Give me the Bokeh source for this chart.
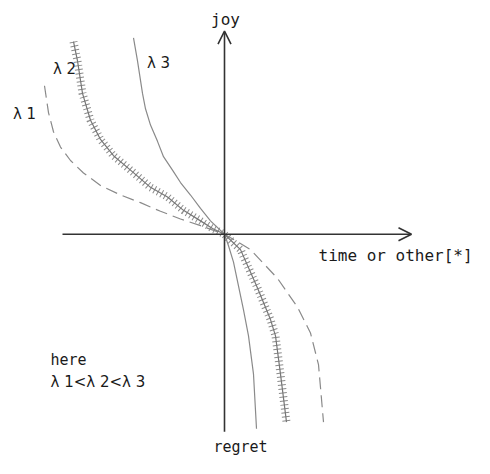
from bokeh.plotting import figure
from bokeh.models import Range1d, Arrow, OpenHead, Label
from bokeh.embed import file_html
from bokeh.resources import INLINE

# curve data (x = time or other, y = joy / regret)
l1_x = [-1.80, -1.76, -1.71, -1.64, -1.54, -1.41, -1.24, -1.04, -0.84, -0.64, -0.44, -0.24, 0.0,
        0.10, 0.26, 0.53, 0.73, 0.86, 0.94, 0.99]
l1_y = [1.55, 1.27, 1.07, 0.91, 0.77, 0.64, 0.51, 0.41, 0.33, 0.24, 0.16, 0.09, 0.0,
        -0.06, -0.16, -0.46, -0.76, -1.03, -1.36, -1.96]

l2_x = [-1.51, -1.47, -1.42, -1.34, -1.24, -1.11, -0.94, -0.74, -0.57, -0.41, -0.24, -0.12, 0.0,
        0.16, 0.33, 0.46, 0.51, 0.56, 0.62]
l2_y = [2.01, 1.81, 1.47, 1.19, 0.99, 0.82, 0.67, 0.49, 0.39, 0.25, 0.14, 0.06, 0.0,
        -0.16, -0.56, -0.89, -1.06, -1.46, -1.96]

l3_x = [-0.91, -0.87, -0.82, -0.79, -0.74, -0.67, -0.61, -0.52, -0.44, -0.34, -0.24, -0.14, 0.0,
        0.04, 0.09, 0.19, 0.24, 0.29, 0.32]
l3_y = [2.05, 1.81, 1.47, 1.31, 1.14, 0.97, 0.81, 0.67, 0.54, 0.41, 0.27, 0.14, 0.0,
        -0.12, -0.29, -0.79, -1.06, -1.46, -2.03]

curve_labels = ["λ 1", "λ 2", "λ 3"]
axis_labels = ["joy", "time or other[*]", "regret"]
note_lines = ["here", "λ 1<λ 2<λ 3"]

p = figure(width=474, height=458, x_range=Range1d(-2.24, 2.50), y_range=Range1d(-2.34, 2.44),
           x_axis_type=None, y_axis_type=None, toolbar_location=None, output_backend="svg",
           min_border=0)
p.grid.visible = False
p.outline_line_color = None
p.background_fill_color = "white"
p.border_fill_color = "white"

curve_col = "#8a8a8a"
axis_col = "#333333"

# axes with open arrow heads
p.add_layout(Arrow(end=OpenHead(size=13, line_width=1.6, line_color=axis_col),
                   x_start=0, y_start=-2.06, x_end=0, y_end=2.12,
                   line_width=1.6, line_color=axis_col))
p.add_layout(Arrow(end=OpenHead(size=13, line_width=1.6, line_color=axis_col),
                   x_start=-1.62, y_start=0, x_end=1.87, y_end=0,
                   line_width=1.6, line_color=axis_col))

# lambda 1: dashed
p.line(l1_x, l1_y, line_color=curve_col, line_width=1.2, line_dash="12 6")
# lambda 2: hatched (thin line with perpendicular ticks)
p.line(l2_x, l2_y, line_color=curve_col, line_width=8, line_dash="1 3", line_cap="butt")
p.line(l2_x, l2_y, line_color="#777777", line_width=1.2)
# lambda 3: solid
p.line(l3_x, l3_y, line_color=curve_col, line_width=1.2)

txt_col = "#1a1a1a"
mono = "DejaVu Sans Mono"
sans = "DejaVu Sans"

p.add_layout(Label(x=0.01, y=2.24, text=axis_labels[0], text_font=mono, text_font_size="16px",
                   text_align="center", text_baseline="middle", text_color=txt_col))
p.add_layout(Label(x=0.94, y=-0.22, text=axis_labels[1], text_font=mono, text_font_size="16px",
                   text_align="left", text_baseline="middle", text_color=txt_col))
p.add_layout(Label(x=0.16, y=-2.215, text=axis_labels[2], text_font=mono, text_font_size="15px",
                   text_align="center", text_baseline="middle", text_color=txt_col))

p.add_layout(Label(x=-2.00, y=1.26, text=curve_labels[0], text_font=sans, text_font_size="15px",
                   text_align="center", text_baseline="middle", text_color=txt_col))
p.add_layout(Label(x=-1.60, y=1.72, text=curve_labels[1], text_font=sans, text_font_size="15px",
                   text_align="center", text_baseline="middle", text_color=txt_col))
p.add_layout(Label(x=-0.66, y=1.79, text=curve_labels[2], text_font=sans, text_font_size="15px",
                   text_align="center", text_baseline="middle", text_color=txt_col))

p.add_layout(Label(x=-1.74, y=-1.31, text=note_lines[0], text_font=mono, text_font_size="15px",
                   text_align="left", text_baseline="middle", text_color=txt_col))
p.add_layout(Label(x=-1.74, y=-1.54, text=note_lines[1], text_font=sans, text_font_size="15px",
                   text_align="left", text_baseline="middle", text_color=txt_col))

open("out.html", "w").write(file_html(p, INLINE))
